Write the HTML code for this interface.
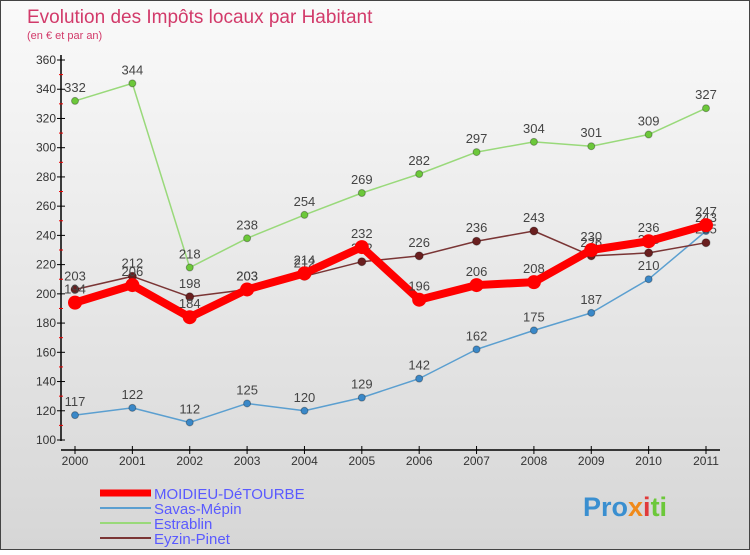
<!DOCTYPE html>
<html><head><meta charset="utf-8"><style>
body{margin:0;width:750px;height:550px;overflow:hidden;font-family:"Liberation Sans",sans-serif}
</style></head><body>
<svg id="c" width="750" height="550" xmlns="http://www.w3.org/2000/svg">
<defs><linearGradient id="bg" x1="0" y1="0" x2="0" y2="1"><stop offset="0" stop-color="#fafafa"/><stop offset="1" stop-color="#d6d6d6"/></linearGradient></defs>
<rect x="0.5" y="0.5" width="749" height="549" fill="url(#bg)" stroke="#444"/>
<text x="27" y="23" font-size="19" fill="#d23a6a">Evolution des Impôts locaux par Habitant</text>
<text x="27" y="39" font-size="11" fill="#d23a6a">(en € et par an)</text>
<g id="axes"></g>
<g id="series"></g>
<g id="legend"></g>
<text x="583" y="516" font-size="27" font-weight="bold" fill="#3a8fd0">Pro<tspan fill="#f08a1a">x</tspan><tspan fill="#e03a3a">i</tspan><tspan fill="#6cc83a">ti</tspan></text>
</svg>
<script>
const years=["2000","2001","2002","2003","2004","2005","2006","2007","2008","2009","2010","2011"];
const yTicks=[100,120,140,160,180,200,220,240,260,280,300,320,340,360];
const moidieu=[194,206,184,203,214,232,196,206,208,230,236,247];
const savas=[117,122,112,125,120,129,142,162,175,187,210,243];
const estrablin=[332,344,218,238,254,269,282,297,304,301,309,327];
const eyzin=[203,212,198,203,212,222,226,236,243,226,228,235];
const NS="http://www.w3.org/2000/svg";
const X=i=>75+i*(631/11);
const Y=v=>440-(v-100)*(380/260);
function mk(tag,attrs,parent){const e=document.createElementNS(NS,tag);for(const k in attrs)e.setAttribute(k,attrs[k]);parent.appendChild(e);return e;}
const ax=document.getElementById('axes');
let l=mk('line',{x1:61,y1:55,x2:61,y2:441,stroke:'#000','stroke-width':1.5},ax);


l=mk('line',{x1:61,y1:450,x2:720,y2:450,stroke:'#000','stroke-width':1.5},ax);


yTicks.forEach((v,i)=>{
  mk('line',{x1:57,y1:Y(v),x2:65,y2:Y(v),stroke:'#000'},ax);
  if(i<yTicks.length-1) mk('line',{x1:59,y1:Y(v+10),x2:63,y2:Y(v+10),stroke:'#e00'},ax);
  const t=mk('text',{x:56,y:Y(v)+4,'font-size':12,fill:'#333','text-anchor':'end'},ax);t.textContent=v;
  
  
});
years.forEach((y,i)=>{
  mk('line',{x1:X(i),y1:446,x2:X(i),y2:454,stroke:'#000'},ax);
  const t=mk('text',{x:X(i),y:465,'font-size':12,fill:'#333','text-anchor':'middle'},ax);t.textContent=y;
  
  
});
const sg=document.getElementById('series');
const series=[
 {name:'savas',d:savas,c:'#5b9fd0',w:1.5,r:3.5,pc:'#3a88c8'},
 {name:'estrablin',d:estrablin,c:'#99d97a',w:1.5,r:3.5,pc:'#6cc83a'},
 {name:'eyzin',d:eyzin,c:'#7a3535',w:1.5,r:4,pc:'#6a1f1f'},
 {name:'moidieu',d:moidieu,c:'#ff0000',w:8,r:7,pc:'#ff0000'}
];
series.forEach(s=>{
  const g=mk('g',{},sg);
  
  
  const p=mk('polyline',{points:s.d.map((v,i)=>X(i)+','+Y(v)).join(' '),fill:'none',stroke:s.c,'stroke-width':s.w,'stroke-linejoin':'round'},g);
  
  
  s.d.forEach((v,i)=>{
    const c=mk('circle',{cx:X(i),cy:Y(v),r:s.r,fill:s.pc,stroke:s.name==='moidieu'?'none':'rgba(0,0,0,0.3)'},g);
    
    
    const t=mk('text',{x:X(i),y:Y(v)-9,'font-size':13,fill:'#444','text-anchor':'middle'},g);t.textContent=v;
    
    
  });
});
const lg=document.getElementById('legend');
const leg=[['MOIDIEU-DéTOURBE','#ff0000',7],['Savas-Mépin','#5b9fd0',2],['Estrablin','#99d97a',2],['Eyzin-Pinet','#7a3535',2]];
leg.forEach((e,i)=>{
  const y=493+i*15;
  const ln=mk('line',{x1:100,y1:y,x2:151,y2:y,stroke:e[1],'stroke-width':e[2]},lg);
  
  
  const t=mk('text',{x:154,y:y+6,'font-size':15,fill:'#5a5aff'},lg);t.textContent=e[0];
  
  
});
</script>
</body></html>
